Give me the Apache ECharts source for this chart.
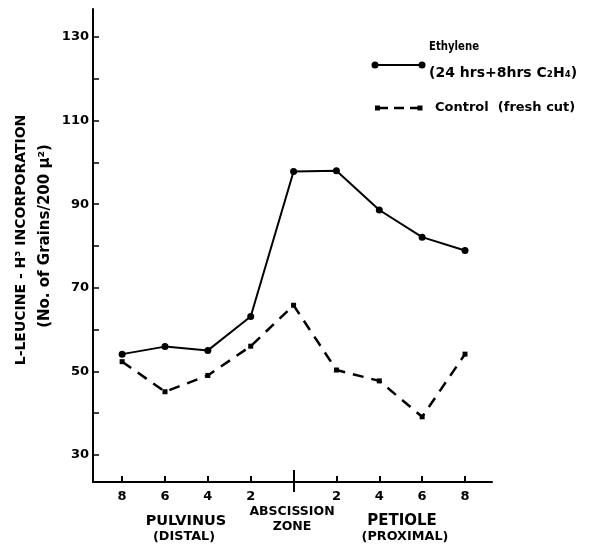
<!DOCTYPE html>
<html>
<head>
<meta charset="utf-8">
<script src="https://cdn.jsdelivr.net/npm/echarts@6/dist/echarts.min.js"></script>
<style>html,body{margin:0;padding:0;background:#fff;}#c{width:589px;height:545px;}</style>
</head>
<body>
<div id="c"></div>
<script>
// Data
var positions = [0, 1, 2, 3, 4, 5, 6, 7, 8];
var tickLabels = ['8', '6', '4', '2', '', '2', '4', '6', '8'];
var ethylene = [54.1, 55.9, 55.0, 63.1, 97.8, 98.0, 88.6, 82.1, 78.9];
var control = [52.3, 45.1, 49.0, 56.0, 65.8, 50.3, 47.7, 39.1, 54.1];
var yTicks = [30, 40, 50, 60, 70, 80, 90, 100, 110, 120, 130];
var yLabels = [30, 50, 70, 90, 110, 130];
var labelTicks = [0, 1, 2, 3, 5, 6, 7, 8];

var FONT = '"DejaVu Sans", sans-serif';
var chart = echarts.init(document.getElementById('c'), null, {renderer: 'canvas'});

function pairs(arr) { return positions.map(function (p, i) { return [p, arr[i]]; }); }

var baseX = {
  type: 'value', min: -0.68, max: 8.63, gridIndex: 0,
  splitLine: {show: false}
};

function txt(s, x, y, size, align, rot) {
  var o = {type: 'text', x: x, y: y, style: {text: s, fontFamily: FONT, fontWeight: 'bold', fontSize: size,
    fill: '#000', align: align || 'center', verticalAlign: 'middle'}};
  if (rot) o.rotation = rot;
  return o;
}

var ethLabel = txt('Ethylene', 429, 47, 13, 'left');
ethLabel.scaleX = 0.78;

var option = {
  animation: false,
  backgroundColor: '#fff',
  grid: {left: 93, right: 97, top: 9, bottom: 63, containLabel: false},
  xAxis: [
    Object.assign({}, baseX, {
      axisLine: {show: true, onZero: false, lineStyle: {color: '#000', width: 2}},
      axisTick: {show: true, inside: true, length: 6, lineStyle: {color: '#000', width: 2},
        customValues: [0, 1, 2, 3, 5, 6, 7, 8]},
      axisLabel: {show: true, customValues: labelTicks, margin: 8,
        color: '#000', fontFamily: FONT, fontWeight: 'bold', fontSize: 13,
        formatter: function (v) { return tickLabels[Math.round(v)]; }}
    }),
    Object.assign({}, baseX, {
      position: 'bottom',
      axisLine: {show: false, onZero: false},
      axisTick: {show: true, inside: true, length: 12, lineStyle: {color: '#000', width: 2}, customValues: [4]},
      axisLabel: {show: false}
    }),
    Object.assign({}, baseX, {
      position: 'bottom',
      axisLine: {show: false, onZero: false},
      axisTick: {show: true, inside: false, length: 10, lineStyle: {color: '#000', width: 2}, customValues: [4]},
      axisLabel: {show: false}
    })
  ],
  yAxis: {
    type: 'value', min: 23.5, max: 136.7,
    splitLine: {show: false},
    axisLine: {show: true, onZero: false, lineStyle: {color: '#000', width: 2}},
    axisTick: {show: true, inside: true, length: 6, lineStyle: {color: '#000', width: 1.5}, customValues: yTicks},
    axisLabel: {show: true, customValues: yLabels, margin: 4, color: '#000',
      fontFamily: FONT, fontWeight: 'bold', fontSize: 13}
  },
  series: [
    {
      name: 'Ethylene', type: 'line', xAxisIndex: 0,
      data: pairs(ethylene),
      symbol: 'circle', symbolSize: 7,
      itemStyle: {color: '#000'},
      lineStyle: {color: '#000', width: 2}
    },
    {
      name: 'Control', type: 'line', xAxisIndex: 0,
      data: pairs(control),
      symbol: 'rect', symbolSize: 5,
      itemStyle: {color: '#000'},
      lineStyle: {color: '#000', width: 2.5, type: [11, 8]}
    }
  ],
  graphic: [
    txt('L-LEUCINE - H³ INCORPORATION', 21, 240, 14, 'center', Math.PI / 2),
    txt('(No. of Grains/200 µ²)', 45, 236, 15, 'center', Math.PI / 2),
    txt('PULVINUS', 186, 521, 14.5),
    txt('(DISTAL)', 184, 537, 12.8),
    txt('ABSCISSION', 292, 512, 12.5),
    txt('ZONE', 292, 527, 12.5),
    txt('PETIOLE', 402, 521, 15),
    txt('(PROXIMAL)', 405, 537, 12.8),
    // legend
    {type: 'line', shape: {x1: 375, y1: 65, x2: 422, y2: 65}, style: {stroke: '#000', lineWidth: 2}},
    {type: 'circle', shape: {cx: 375, cy: 65, r: 3.5}, style: {fill: '#000'}},
    {type: 'circle', shape: {cx: 422, cy: 65, r: 3.5}, style: {fill: '#000'}},
    ethLabel,
    txt('(24 hrs+8hrs C₂H₄)', 429, 73, 14, 'left'),
    {type: 'line', shape: {x1: 378, y1: 108, x2: 420, y2: 108}, style: {stroke: '#000', lineWidth: 2.5, lineDash: [10, 6]}},
    {type: 'rect', shape: {x: 375, y: 105.5, width: 5, height: 5}, style: {fill: '#000'}},
    {type: 'rect', shape: {x: 417.5, y: 105.5, width: 5, height: 5}, style: {fill: '#000'}},
    txt('Control  (fresh cut)', 435, 108, 13, 'left')
  ]
};
chart.setOption(option);
</script>
</body>
</html>
